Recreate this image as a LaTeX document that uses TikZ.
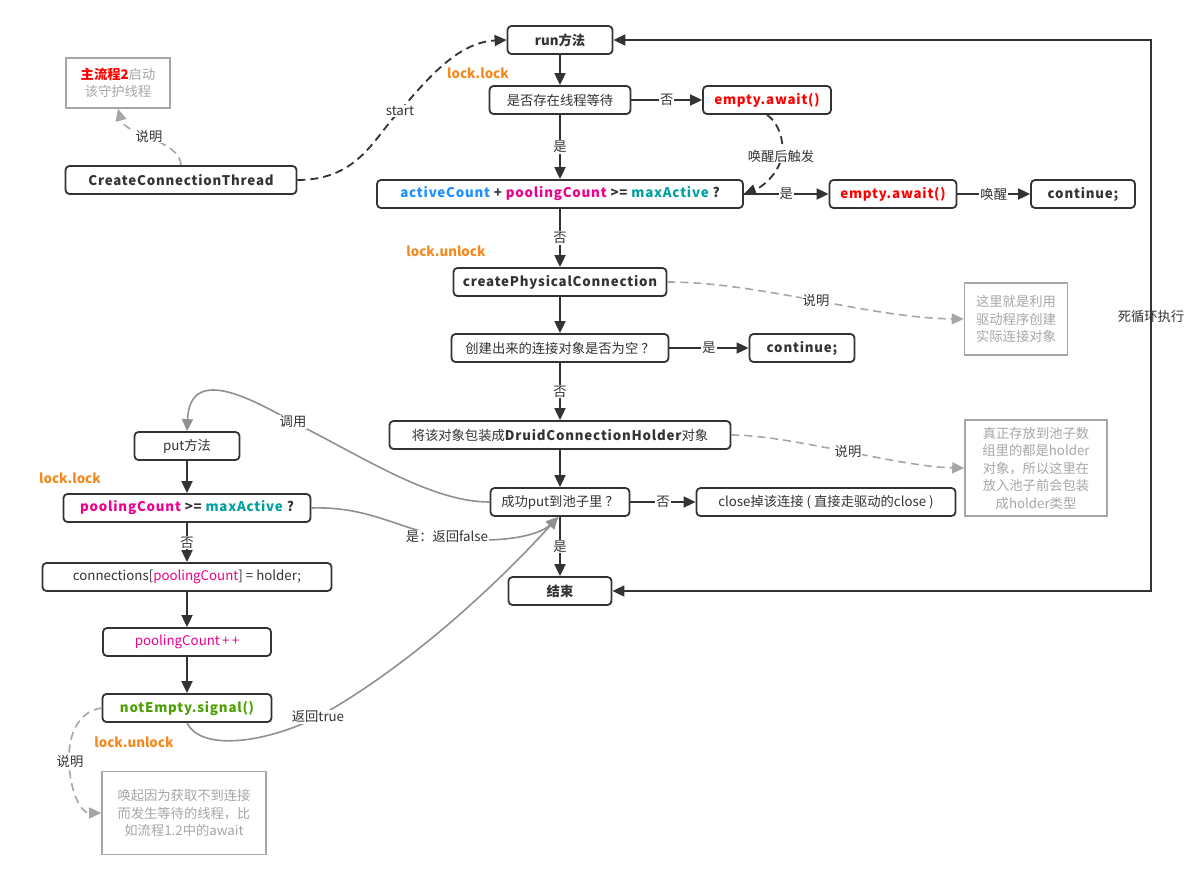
\documentclass[tikz,border=0pt]{standalone}
\usepackage{fontspec}
\setmainfont{Noto Sans CJK SC}
\newfontfamily\lspf[LetterSpace=6]{Noto Sans CJK SC}
\usetikzlibrary{arrows.meta}
\definecolor{dk}{HTML}{333333}
\definecolor{nt}{HTML}{A6A6A6}
\definecolor{gl}{HTML}{909090}
\definecolor{og}{RGB}{245,137,31}
\definecolor{rd}{RGB}{255,0,0}
\definecolor{bl}{RGB}{24,144,255}
\definecolor{pk}{RGB}{236,0,140}
\definecolor{tl}{RGB}{0,160,160}
\definecolor{gn}{RGB}{76,160,0}
\newcommand{\fs}{\fontsize{13.3}{17.5}\selectfont}
\begin{document}
\begin{tikzpicture}[x=1pt,y=-1pt,
  box/.style={draw=dk, line width=1.8pt, rounded corners=4pt, minimum height=28pt, inner sep=0pt, font=\fs, text=dk, fill=white},
  bbox/.style={box, font=\fs\lspf\bfseries},
  note/.style={draw=nt, line width=1.6pt, text=nt, align=center, inner sep=0pt, font=\fs},
  arr/.style={draw=dk, line width=1.8pt, -{Triangle[length=12pt,width=11pt]}},
  darr/.style={arr, dash pattern=on 8pt off 5pt},
  garr/.style={draw=gl, line width=1.6pt, -{Triangle[length=12pt,width=11pt]}},
  gdarr/.style={draw=nt, line width=1.6pt, dash pattern=on 8pt off 5pt, -{Triangle[length=12pt,width=11pt]}},
  lbl/.style={fill=white, inner sep=1pt, font=\fs, text=dk},
  olbl/.style={font=\fs\bfseries, text=og, inner sep=0pt}]
\useasboundingbox (0,0) rectangle (1200,881);
% main column
\node[box, minimum width=105pt, font=\fs\bfseries] (run) at (560,40) {run方法};
\node[box, minimum width=141pt] (wait) at (560,100) {是否存在线程等待};
\node[bbox, minimum width=128pt, text=rd] (ea1) at (767,100) {empty.await()};
\node[bbox, minimum width=366pt] (ac) at (560,194) {{\color{bl}activeCount} + {\color{pk}poolingCount} >= {\color{tl}maxActive} ?};
\node[bbox, minimum width=127pt, text=rd] (ea2) at (893,194) {empty.await()};
\node[bbox, minimum width=104pt] (cont1) at (1083,194) {continue;};
\node[bbox, minimum width=213pt] (cp) at (560,282) {createPhysicalConnection};
\node[box, minimum width=217pt] (null) at (560,348) {创建出来的连接对象是否为空 ？};
\node[bbox, minimum width=105pt] (cont2) at (802,348) {continue;};
\node[box, minimum width=341pt] (wr) at (560,435) {将该对象包装成{\lspf\bfseries DruidConnectionHolder}对象};
\node[box, minimum width=139pt] (sp) at (560,502) {成功put到池子里 ？};
\node[box, minimum width=259pt] (cl) at (826,502) {close掉该连接 ( 直接走驱动的close )};
\node[box, minimum width=103pt, font=\fs\bfseries] (end) at (560,591) {结束};
% left column
\node[bbox, minimum width=231pt] (cct) at (181,180) {CreateConnectionThread};
\node[note, minimum width=104pt, minimum height=50pt] (n1) at (118,83) {{\bfseries\color{rd}主流程2}启动\\该守护线程};
\node[box, minimum width=105pt] (put) at (187,446) {put方法};
\node[bbox, minimum width=247pt] (pa) at (187,508) {{\color{pk}poolingCount} >= {\color{tl}maxActive} ?};
\node[box, minimum width=289pt] (conn) at (187,577) {connections[{\color{pk}poolingCount}] = holder;};
\node[box, minimum width=168pt, text=pk] (pp) at (187,642) {poolingCount{\lspf\,+\,+}};
\node[bbox, minimum width=169pt, text=gn] (ne) at (187,708) {notEmpty.signal()};
\node[note, minimum width=164pt, minimum height=83pt] (n4) at (184,813) {唤起因为获取不到连接\\而发生等待的线程，比\\如流程1.2中的await};
% notes right
\node[note, minimum width=103pt, minimum height=72pt] (n2) at (1016,319) {这里就是利用\\驱动程序创建\\实际连接对象};
\node[note, minimum width=142pt, minimum height=96pt] (n3) at (1036,468) {真正存放到池子数\\组里的都是holder\\对象，所以这里在\\放入池子前会包装\\成holder类型};
% orange labels
\node[olbl] (ll1) at (478,73) {lock.lock};
\node[olbl] (lu1) at (446,251) {lock.unlock};
\node[olbl] (ll2) at (70,478) {lock.lock};
\node[olbl] (lu2) at (134,742) {lock.unlock};
% main connectors
\draw[arr] (run) -- (wait);
\draw[arr] (wait) -- node[lbl]{否} (ea1);
\draw[arr] (wait) -- node[lbl]{是} (ac);
\draw[arr] (ac) -- node[lbl]{是} (ea2);
\draw[arr] (ea2) -- node[lbl]{唤醒} (cont1);
\draw[arr] (ac) -- node[lbl]{否} (cp);
\draw[arr] (cp) -- (null);
\draw[arr] (null) -- node[lbl]{是} (cont2);
\draw[arr] (null) -- node[lbl]{否} (wr);
\draw[arr] (wr) -- (sp);
\draw[arr] (sp) -- node[lbl]{否} (cl);
\draw[arr] (sp) -- node[lbl]{是} (end);
\coordinate (lp) at (1151,316);
\draw[arr, {Triangle[length=12pt,width=11pt]}-{Triangle[length=12pt,width=11pt]}] (end.east) -| (lp) |- (run.east);
\node[font=\fs, text=dk] (lpl) at (lp) {死循环执行};
\draw[arr] (put) -- (pa);
\draw[arr] (pa) -- node[lbl]{否} (conn);
\draw[arr] (conn) -- (pp);
\draw[arr] (pp) -- (ne);
% curves
\draw[darr] (cct.east) .. controls (360,180) and (375,135) .. (400,111) .. controls (430,75) and (460,42) .. (run.west);
\node[lbl] (stl) at (400,111) {start};
\draw[darr] (ea1.south) .. controls (782,125) and (785,150) .. (781,160) .. controls (775,178) and (760,188) .. (ac.east);
\node[lbl] (hx) at (781,156) {唤醒后触发};
\draw[gdarr] (cct.north) .. controls (180,140) and (125,135) .. (n1.south);
\node[lbl] (sm1) at (149,136) {说明};
\draw[gdarr] (cp.east) .. controls (760,282) and (870,318) .. (n2.west);
\node[lbl] (sm2) at (816,300) {说明};
\draw[gdarr] (wr.east) .. controls (790,435) and (900,467) .. (n3.west);
\node[lbl] (sm3) at (848,451) {说明};
\draw[gdarr] (ne.west) .. controls (75,712) and (68,740) .. (69,762) .. controls (70,790) and (80,813) .. (n4.west);
\node[lbl] (sm4) at (70,761) {说明};
\draw[garr] (sp.west) .. controls (430,502) and (360,455) .. (295,423) .. controls (250,398) and (190,365) .. (put.north);
\node[lbl] (dy) at (293,422) {调用};
\draw[garr] (pa.east) .. controls (370,506) and (400,530) .. (447,537) .. controls (500,545) and (540,535) .. (sp.-97);
\node[lbl] (rf) at (447,537) {是：返回false};
\draw[garr] (ne.south) .. controls (200,750) and (260,745) .. (318,717) .. controls (420,660) and (510,570) .. (sp.-97);
\node[lbl] (rt) at (318,717) {返回true};
\end{tikzpicture}
\end{document}
